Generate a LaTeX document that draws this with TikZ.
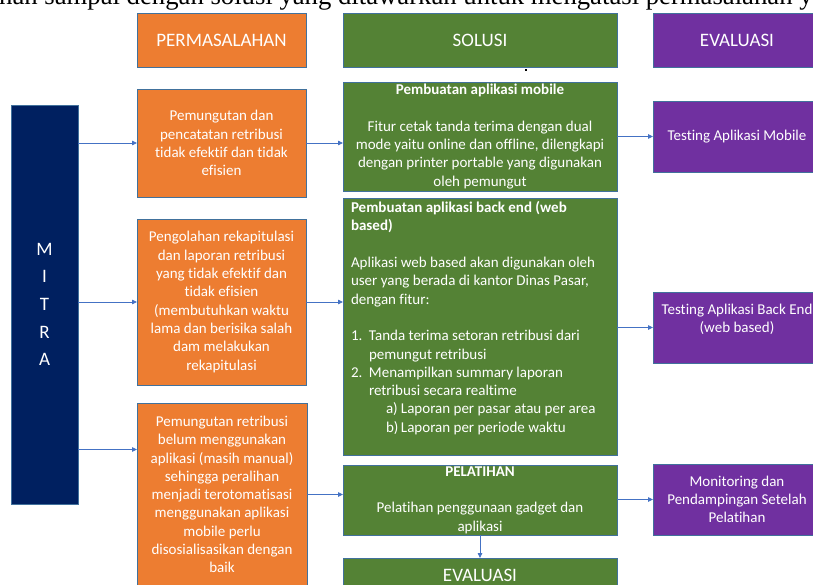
\documentclass[tikz,border=0pt]{standalone}
\usepackage{fontspec}
\setmainfont{Carlito}[RawFeature={-liga;-clig}]
\newfontfamily\capfont{Liberation Serif}
\usetikzlibrary{arrows.meta}
\definecolor{orng}{HTML}{ED7D31}
\definecolor{grn}{HTML}{548235}
\definecolor{purp}{HTML}{7030A0}
\definecolor{navy}{HTML}{002060}
\definecolor{edgec}{HTML}{41719C}
\definecolor{arr}{HTML}{4472C4}
\begin{document}
\begin{tikzpicture}[x=1pt,y=-1pt,
  box/.style={draw=edgec, line width=0.8pt, text=white, inner sep=0pt, outer sep=0pt,
    anchor=north west, align=center, font=\fontsize{15}{18.3}\selectfont},
  hdr/.style={box, font=\fontsize{19}{23}\selectfont},
  txt/.style={text=white, inner sep=0pt, outer sep=0pt, font=\fontsize{15}{18.3}\selectfont},
  conn/.style={draw=arr, line width=0.8pt, -{Triangle[length=5pt,width=4.5pt]}}]
\useasboundingbox (0,0) rectangle (813,585);
\clip (0,0) rectangle (813,585);

% cut-off caption line at the top
\node[anchor=base west, inner sep=0pt, font=\capfont\fontsize{26.7}{30}\selectfont] (cap) at (-1,5)
  {han sampai dengan solusi yang ditawarkan untuk mengatasi permasalahan y};

% headers
\node[hdr, fill=orng, minimum width=169pt, minimum height=54pt] (hP) at (137,13) {PERMASALAHAN};
\node[hdr, fill=grn, minimum width=274pt, minimum height=54pt] (hS) at (343,13) {SOLUSI};
\node[hdr, fill=purp, minimum width=168pt, minimum height=54pt] (hE) at (653,13) {EVALUASI};
\node[fill=black, minimum size=2pt, inner sep=0pt] (mark) at (526,70) {};

% MITRA
\node[box, fill=navy, minimum width=67pt, minimum height=399pt,
  font=\fontsize{19}{27.6}\selectfont] (mitra) at (11,105) {M\\I\\T\\R\\A};

% problems
\node[box, fill=orng, minimum width=169pt, minimum height=108pt] (o1) at (137,89)
  {Pemungutan dan\\pencatatan retribusi\\tidak efektif dan tidak\\efisien};
\node[box, fill=orng, minimum width=169pt, minimum height=166pt] (o2) at (137,219)
  {Pengolahan rekapitulasi\\dan laporan retribusi\\yang tidak efektif dan\\tidak efisien\\(membutuhkan waktu\\lama dan berisika salah\\dam melakukan\\rekapitulasi};
\node[box, fill=orng, minimum width=170pt, minimum height=183pt] (o3) at (137,403)
  {Pemungutan retribusi\\belum menggunakan\\aplikasi (masih manual)\\sehingga peralihan\\menjadi terotomatisasi\\menggunakan aplikasi\\mobile perlu\\disosialisasikan dengan\\baik};

% solutions
\node[box, fill=grn, minimum width=274pt, minimum height=109pt] (g1) at (343,82)
  {\textbf{Pembuatan aplikasi mobile}\\[18.3pt]Fitur cetak tanda terima dengan dual\\mode yaitu online dan offline, dilengkapi\\dengan printer portable yang digunakan\\oleh pemungut};
\node[box, fill=grn, minimum width=274pt, minimum height=257pt] (g2) at (343,198) {};
\node[txt, anchor=north west, align=left] (g2t) at (351,201.5)
  {\textbf{Pembuatan aplikasi back end (web}\\\textbf{based)}\\[18.3pt]Aplikasi web based akan digunakan oleh\\user yang berada di kantor Dinas Pasar,\\dengan fitur:\\[18.3pt]\makebox[18pt][l]{1.}Tanda terima setoran retribusi dari\\\hspace*{18pt}pemungut retribusi\\\makebox[18pt][l]{2.}Menampilkan summary laporan\\\hspace*{18pt}retribusi secara realtime\\\hspace*{35pt}\makebox[15pt][l]{a)}Laporan per pasar atau per area\\\hspace*{35pt}\makebox[15pt][l]{b)}Laporan per periode waktu};
\node[box, fill=grn, minimum width=274pt, minimum height=70pt] (g3) at (343,465)
  {\textbf{PELATIHAN}\\[18.3pt]Pelatihan penggunaan gadget dan\\aplikasi};
\node[box, fill=grn, minimum width=274pt, minimum height=34pt,
  font=\fontsize{19}{23}\selectfont] (g4) at (343,558) {EVALUASI};

% evaluations
\node[box, fill=purp, minimum width=168pt, minimum height=71pt] (p1) at (653,101)
  {Testing Aplikasi Mobile};
\node[box, fill=purp, minimum width=168pt, minimum height=71pt] (p2) at (653,292) {};
\node[txt, align=center] (p2t) at ([yshift=8.5pt]p2.center)
  {Testing Aplikasi Back End\\(web based)};
\node[box, fill=purp, minimum width=168pt, minimum height=71pt] (p3) at (653,464)
  {Monitoring dan\\Pendampingan Setelah\\Pelatihan};

% connectors
\coordinate (o3in) at ([yshift=45pt]o3.west);
\draw[conn] (mitra.east |- o1.west) -- (o1.west);
\draw[conn] (mitra.east |- o2.west) -- (o2.west);
\draw[conn] (mitra.east |- o3in) -- (o3in);
\draw[conn] (o1.east) -- (o1.east -| g1.west);
\draw[conn] (o2.east) -- (o2.east -| g2.west);
\draw[conn] (o3.east) -- (o3.east -| g3.west);
\draw[conn] (g1.east |- p1.west) -- (p1.west);
\draw[conn] (g2.east |- p2.west) -- (p2.west);
\draw[conn] (g3.east |- p3.west) -- (p3.west);
\draw[conn] (g3.south) -- (g4.north);
\end{tikzpicture}
\end{document}
